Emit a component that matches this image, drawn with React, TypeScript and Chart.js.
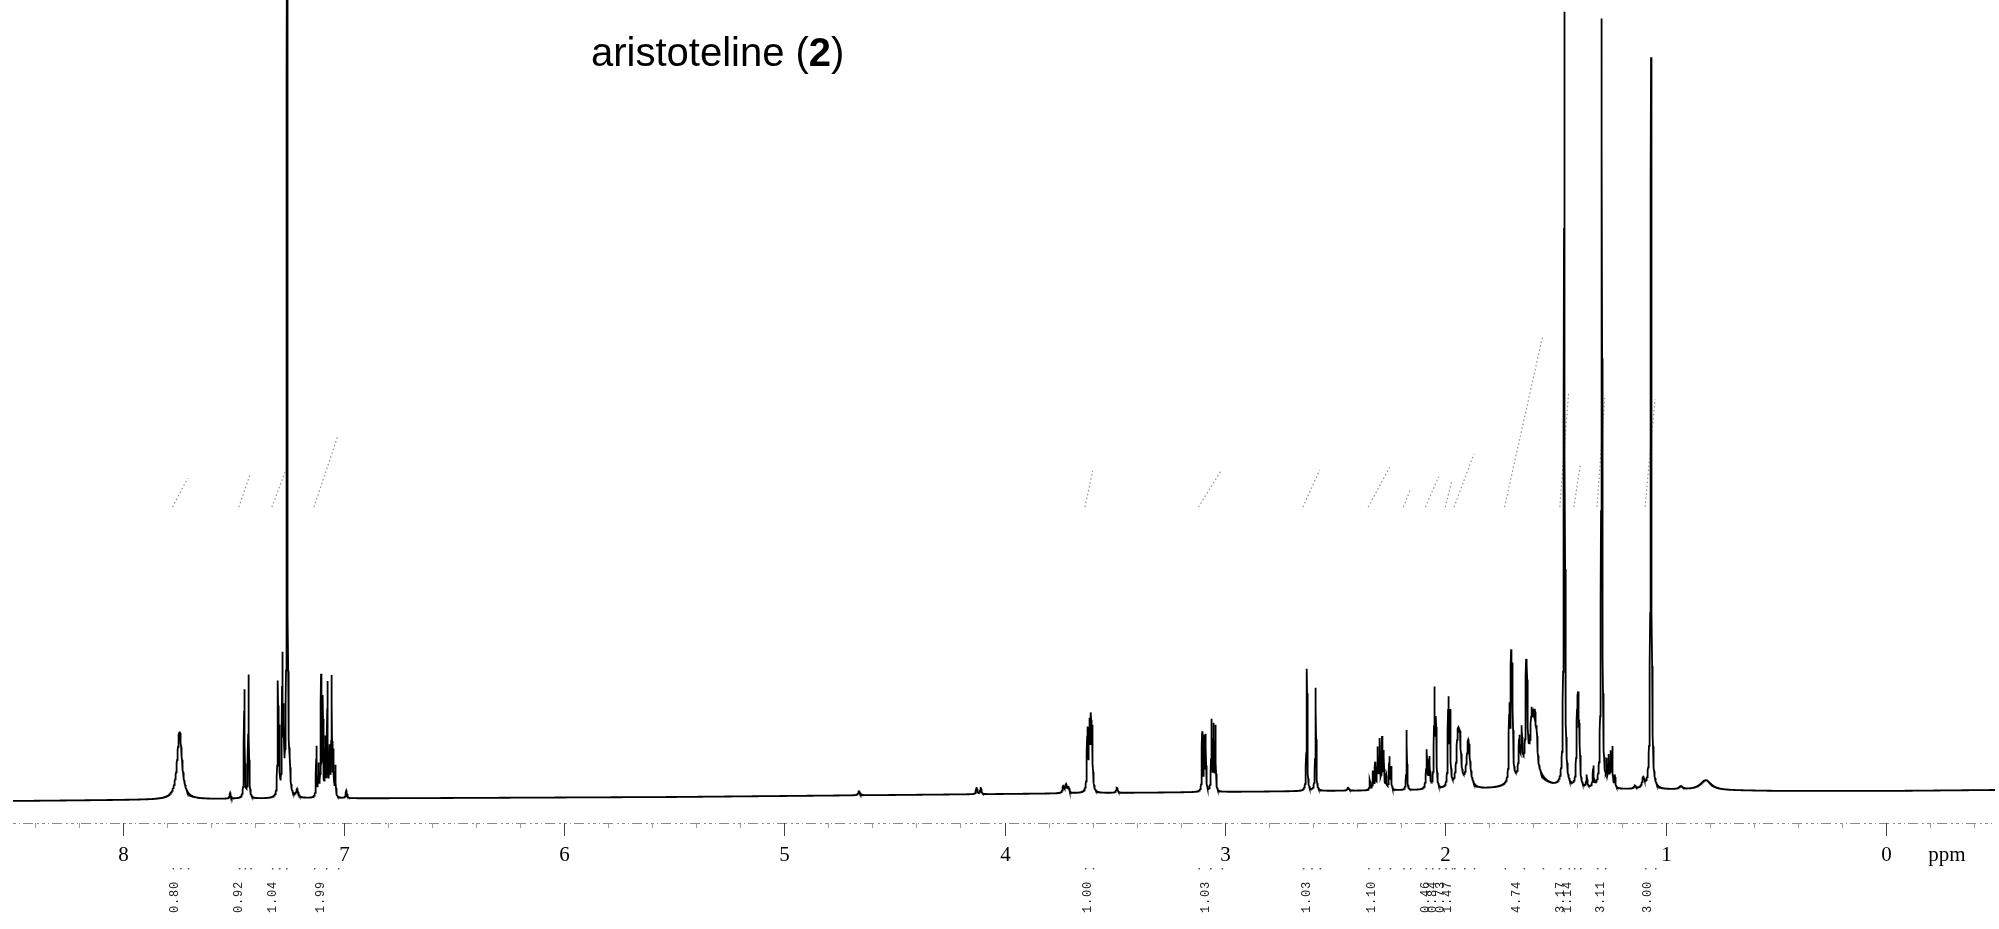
import { useEffect, useRef } from "react";
import Chart from "chart.js/auto";

// ---- spectrum peak list (ppm, height above baseline, line width in ppm) ----
const peakPpm = [
  7.744, 7.514, 7.45, 7.431, 7.298, 7.292, 7.278, 7.272, 7.256, 7.244, 7.21,
  7.123, 7.113, 7.102, 7.094, 7.083, 7.073, 7.063, 7.054, 7.046, 7.037, 6.987,
  4.66, 4.127, 4.108, 3.733, 3.721, 3.71,
  3.624, 3.615, 3.608, 3.602, 3.49,
  3.103, 3.094, 3.087, 3.061, 3.052, 3.043,
  2.628, 2.588, 2.44,
  2.342, 2.328, 2.318, 2.307, 2.298, 2.287, 2.279, 2.268, 2.254, 2.246,
  2.175, 2.084, 2.072, 2.049, 2.042, 1.986, 1.978, 1.943, 1.933, 1.895,
  1.709, 1.701, 1.695, 1.664, 1.653, 1.633, 1.629, 1.608, 1.6, 1.593, 1.585, 1.615,
  1.4596, 1.402, 1.397, 1.391, 1.358, 1.328,
  1.29, 1.267, 1.258, 1.249, 1.242, 1.23, 1.139, 1.101,
  1.066, 0.93, 0.817,
];
const peakHeight = [
  68, 6, 108, 123, 110, 60, 132, 70, 900, 25, 8,
  50, 30, 118, 95, 55, 112, 45, 118, 42, 30, 8,
  4, 7, 7, 7, 8, 6,
  60, 62, 64, 56, 5,
  58, 52, 54, 70, 64, 64,
  122, 103, 3,
  10, 18, 26, 40, 48, 50, 36, 12, 32, 22,
  60, 38, 30, 95, 62, 85, 70, 48, 40, 48,
  68, 112, 100, 35, 40, 80, 70, 40, 30, 38, 30, 32,
  775, 55, 72, 45, 12, 20,
  770, 22, 28, 32, 38, 12, 3, 10,
  732, 3, 10,
];
const peakWidth = [
  0.026, 0.006, 0.004, 0.004, 0.0035, 0.0035, 0.0035, 0.0035, 0.004, 0.004, 0.01,
  0.0035, 0.0035, 0.0035, 0.0035, 0.0035, 0.0035, 0.0035, 0.0035, 0.0035, 0.0035, 0.006,
  0.01, 0.006, 0.006, 0.008, 0.008, 0.008,
  0.005, 0.005, 0.005, 0.005, 0.008,
  0.0035, 0.0035, 0.0035, 0.0035, 0.0035, 0.0035,
  0.004, 0.004, 0.01,
  0.004, 0.004, 0.004, 0.004, 0.004, 0.004, 0.004, 0.004, 0.004, 0.004,
  0.0035, 0.006, 0.006, 0.005, 0.005, 0.005, 0.005, 0.014, 0.012, 0.018,
  0.005, 0.005, 0.005, 0.006, 0.006, 0.005, 0.005, 0.008, 0.008, 0.008, 0.008, 0.09,
  0.0045, 0.006, 0.006, 0.006, 0.005, 0.005,
  0.0045, 0.004, 0.004, 0.004, 0.004, 0.004, 0.01, 0.012,
  0.0045, 0.02, 0.06,
];

// baseline drift knots
const baselinePpm = [8.5, 7.5, 6.5, 5.5, 4.5, 3.5, 2.5, 1.5, 1.0, 0.5, 0.0, -0.5];
const baselineLevel = [-1, 1, 2, 3, 5, 7, 9, 10, 10, 9, 9, 10];

// integrals
const integralLabels = ["0.80", "0.92", "1.04", "1.99", "1.00", "1.03", "1.03", "1.10", "0.46", "0.84", "0.73", "1.47", "4.74", "3.17", "1.14", "3.11", "3.00"];
const integralValues = [0.8, 0.92, 1.04, 1.99, 1.0, 1.03, 1.03, 1.1, 0.46, 0.84, 0.73, 1.47, 4.74, 3.17, 1.14, 3.11, 3.0];
const integralStartPpm = [7.776, 7.475, 7.325, 7.134, 3.635, 3.12, 2.646, 2.35, 2.19, 2.09, 2.0, 1.96, 1.731, 1.48, 1.416, 1.311, 1.093];
const integralEndPpm = [7.707, 7.423, 7.261, 7.025, 3.6, 3.015, 2.57, 2.252, 2.16, 2.03, 1.97, 1.87, 1.558, 1.44, 1.388, 1.275, 1.048];
const integralLabelPpm = [7.765, 7.475, 7.32, 7.105, 3.623, 3.085, 2.628, 2.333, 2.09, 2.055, 2.021, 1.986, 1.674, 1.477, 1.443, 1.293, 1.08];

// axis
const axisTickValues = [8, 7, 6, 5, 4, 3, 2, 1, 0];
const axisTickLabels = ["8", "7", "6", "5", "4", "3", "2", "1", "0"];
const axisUnit = "ppm";
const titleText = "aristoteline (";
const titleCompound = "2";
const titleClose = ")";

const PPM_MAX = 8.5;
const PPM_MIN = -0.495;
const INTEGRAL_BASE = 293;
const INTEGRAL_SCALE = 36;

function baselineAt(p: number): number {
  for (let i = 0; i < baselinePpm.length - 1; i++) {
    const a = baselinePpm[i];
    const b = baselinePpm[i + 1];
    if (p <= a && p >= b) {
      const t = (a - p) / (a - b);
      return baselineLevel[i] + t * (baselineLevel[i + 1] - baselineLevel[i]);
    }
  }
  return p > baselinePpm[0] ? baselineLevel[0] : baselineLevel[baselineLevel.length - 1];
}

function buildSpectrum() {
  const xs: number[] = [];
  for (let i = 0; i <= 9000; i++) xs.push(PPM_MAX - i * 0.001);
  peakPpm.forEach((p) => xs.push(p));
  xs.sort((a, b) => b - a);
  return xs.map((p) => {
    let v = baselineAt(p);
    for (let k = 0; k < peakPpm.length; k++) {
      const d = (p - peakPpm[k]) / (peakWidth[k] / 2);
      v += peakHeight[k] / (1 + d * d);
    }
    return { x: p, y: v };
  });
}

const decorPlugin = {
  id: "nmrDecor",
  afterDraw(chart: any) {
    const ctx = chart.ctx as CanvasRenderingContext2D;
    const xs = chart.scales.x;
    const axisY = 823;
    ctx.save();

    // axis dotted line
    ctx.strokeStyle = "#8a8a8a";
    ctx.lineWidth = 1;
    ctx.setLineDash([3, 3, 1, 3, 10, 4, 2, 3]);
    ctx.beginPath();
    ctx.moveTo(chart.chartArea.left, axisY + 0.5);
    ctx.lineTo(chart.chartArea.right, axisY + 0.5);
    ctx.stroke();
    ctx.setLineDash([]);

    // minor ticks every 0.2 ppm
    ctx.strokeStyle = "#999";
    for (let m = -2; m <= 42; m++) {
      const p = m * 0.2;
      if (p < PPM_MIN || p > PPM_MAX) continue;
      const px = Math.round(xs.getPixelForValue(p)) + 0.5;
      ctx.beginPath();
      ctx.moveTo(px, axisY);
      ctx.lineTo(px, axisY + 5);
      ctx.stroke();
    }
    // major ticks + labels
    ctx.strokeStyle = "#444";
    ctx.fillStyle = "#000";
    ctx.font = "21px 'Liberation Serif', 'Times New Roman', serif";
    ctx.textAlign = "center";
    ctx.textBaseline = "middle";
    axisTickValues.forEach((v, i) => {
      const px = Math.round(xs.getPixelForValue(v)) + 0.5;
      ctx.beginPath();
      ctx.moveTo(px, axisY);
      ctx.lineTo(px, axisY + 13);
      ctx.stroke();
      ctx.fillText(axisTickLabels[i], px, 855);
    });
    ctx.fillText(axisUnit, 1947, 855);

    // integral region markers and labels
    ctx.fillStyle = "#555";
    integralStartPpm.forEach((s, i) => {
      const x1 = xs.getPixelForValue(s);
      const x2 = xs.getPixelForValue(integralEndPpm[i]);
      ctx.fillRect(x1, 868, 1.5, 1.5);
      ctx.fillRect(x2, 868, 1.5, 1.5);
      if (x2 - x1 > 10) ctx.fillRect((x1 + x2) / 2, 868, 1.5, 1.5);
    });
    ctx.font = "12px 'Liberation Mono', 'Courier New', monospace";
    ctx.fillStyle = "#222";
    integralLabels.forEach((t, i) => {
      const px = xs.getPixelForValue(integralLabelPpm[i]);
      ctx.save();
      ctx.translate(px, 897);
      ctx.rotate(-Math.PI / 2);
      (ctx as any).letterSpacing = "0.8px";
      ctx.textAlign = "center";
      ctx.textBaseline = "middle";
      ctx.fillText(t, 0, 0);
      ctx.restore();
    });

    // title
    ctx.fillStyle = "#000";
    ctx.textAlign = "left";
    ctx.textBaseline = "alphabetic";
    let tx = 591;
    const ty = 66;
    ctx.font = "40px 'Liberation Sans', Arial, sans-serif";
    ctx.fillText(titleText, tx, ty);
    tx += ctx.measureText(titleText).width;
    ctx.font = "bold 40px 'Liberation Sans', Arial, sans-serif";
    ctx.fillText(titleCompound, tx, ty);
    tx += ctx.measureText(titleCompound).width;
    ctx.font = "40px 'Liberation Sans', Arial, sans-serif";
    ctx.fillText(titleClose, tx, ty);

    ctx.restore();
  },
};

export default function App() {
  const ref = useRef<HTMLCanvasElement | null>(null);
  useEffect(() => {
    if (!ref.current) return;
    const spectrum = buildSpectrum();
    const integralSets = integralStartPpm.map((s, i) => ({
      data: [
        { x: s, y: INTEGRAL_BASE },
        { x: integralEndPpm[i], y: INTEGRAL_BASE + INTEGRAL_SCALE * integralValues[i] },
      ],
      borderColor: "#8f8f8f",
      borderWidth: 1.2,
      borderDash: [1.5, 2.5],
      pointRadius: 0,
      fill: false,
    }));
    const chart = new Chart(ref.current, {
      type: "line",
      data: {
        datasets: [
          {
            data: spectrum,
            borderColor: "#000",
            borderWidth: 1.8,
            pointRadius: 0,
            fill: false,
            tension: 0,
          },
          ...integralSets,
        ] as any,
      },
      options: {
        animation: false,
        responsive: false,
        normalized: true,
        layout: { padding: { left: 13, right: 4, top: 0, bottom: 106 } },
        scales: {
          x: { type: "linear", reverse: true, min: PPM_MIN, max: PPM_MAX, display: false },
          y: { type: "linear", min: -23, max: 800, display: false },
        },
        plugins: { legend: { display: false }, tooltip: { enabled: false } },
        elements: { point: { radius: 0 } },
      },
      plugins: [decorPlugin],
    });
    return () => chart.destroy();
  }, []);
  return (
    <div style={{ position: "absolute", left: 0, top: 0, width: 1999, height: 929, background: "#fff" }}>
      <canvas ref={ref} width={1999} height={929} style={{ display: "block" }} />
    </div>
  );
}
